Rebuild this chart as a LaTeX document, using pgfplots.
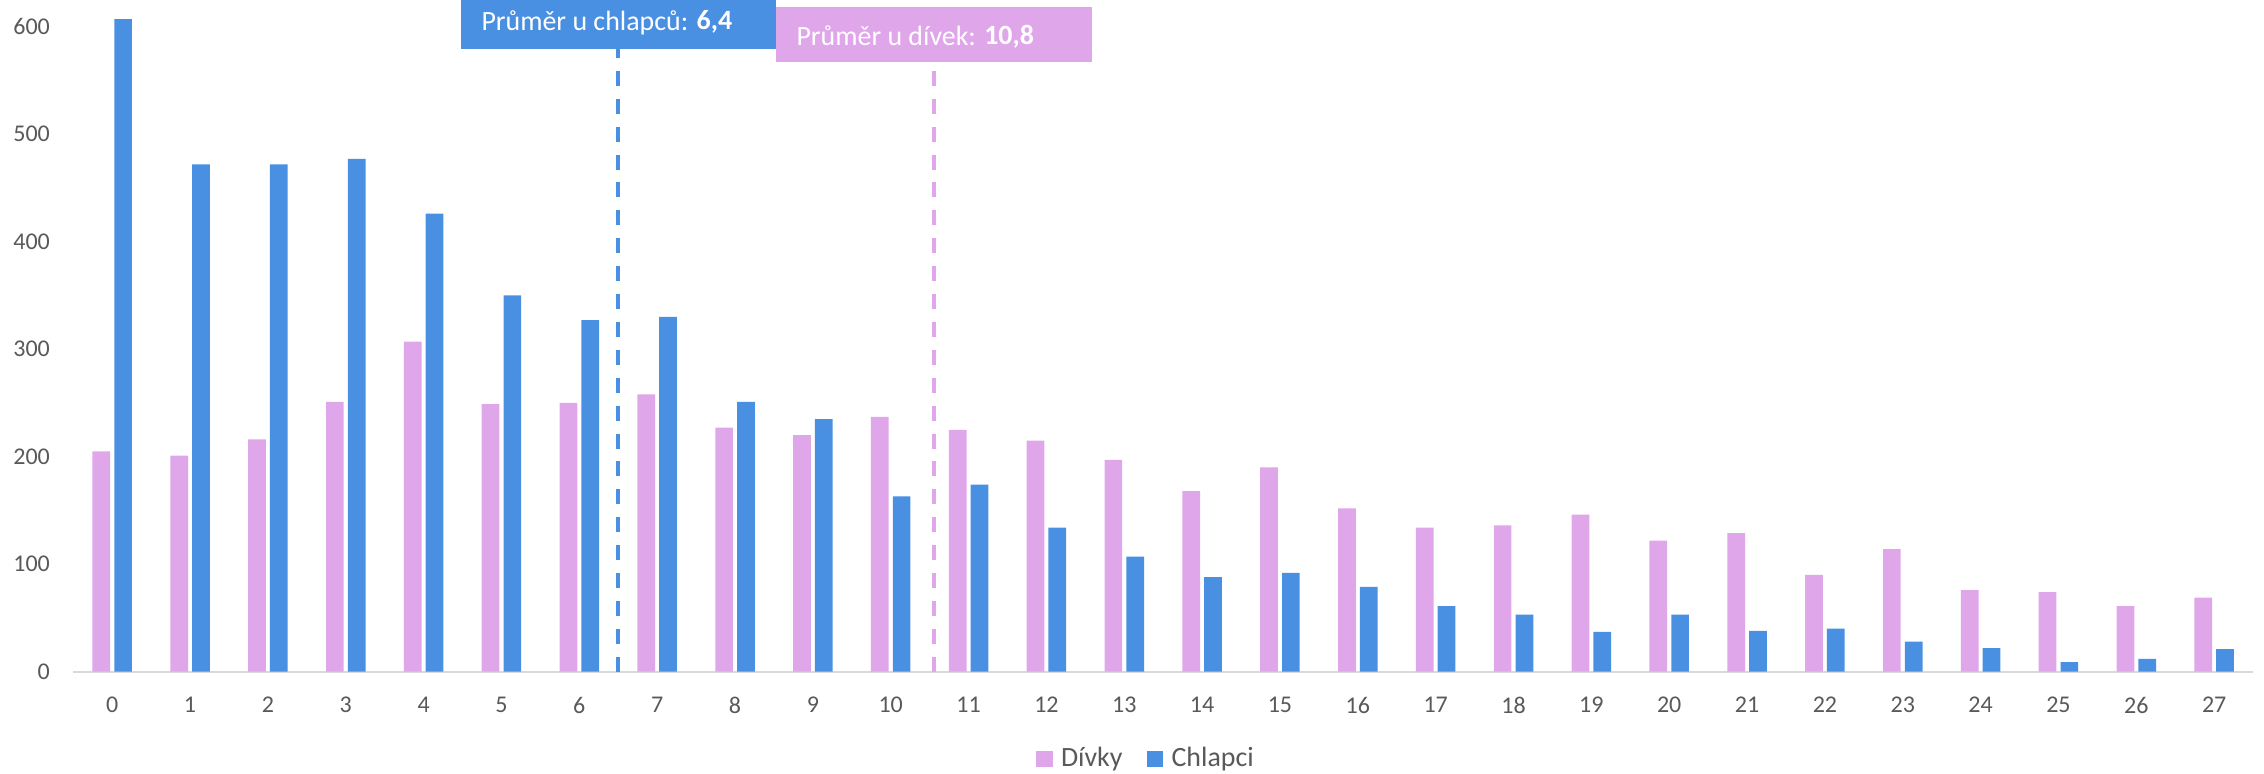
\documentclass[border=0pt]{standalone}
\usepackage{pgfplots}
\pgfplotsset{compat=1.18}
\usepackage{fontspec}
\setmainfont{Carlito}
\definecolor{blueC}{HTML}{4A90E2}
\definecolor{pinkC}{HTML}{E0A6EA}
\definecolor{tickC}{HTML}{595959}
\definecolor{axisC}{HTML}{D9D9D9}
\begin{document}
\begin{tikzpicture}
\path[use as bounding box] (-24.43pt,-33.77pt) rectangle (730.24pt,223.9pt);
\begin{axis}[
  at={(0pt,0pt)}, anchor=south west,
  scale only axis,
  width=726.6pt, height=223.9pt,
  xmin=-0.5, xmax=27.5, ymin=0, ymax=624.8,
  axis lines*=left,
  x axis line style={draw=axisC, line width=0.75pt},
  y axis line style={draw=none},
  major tick length=0pt,
  tick style={draw=none},
  xtick={0,1,...,27},
  ytick={0,100,...,600},
  /pgf/number format/assume math mode=true,
  ticklabel style={font=\fontsize{8}{9.6}\selectfont, text=tickC, inner sep=0pt},
  yticklabel style={anchor=east, xshift=-7.6pt},
  xticklabel style={anchor=north, yshift=-8.3pt},
  clip=true,
  legend columns=2,
  legend style={at={(0.4916,0)}, anchor=center, yshift=-29.1pt, draw=none, fill=none,
    font=\fontsize{9.3}{11}\selectfont, text=tickC,
    nodes={inner sep=0pt},
    /tikz/every odd column/.append style={column sep=2.8pt},
    /tikz/every even column/.append style={column sep=8pt}},
]
\addplot[ybar, bar width=5.9pt, bar shift=-3.63pt, fill=pinkC, draw=none,
  legend image code/.code={\fill[pinkC] (0pt,-2.78pt) rectangle (5.56pt,2.78pt);}]
coordinates {(0,205) (1,201) (2,216) (3,251) (4,307) (5,249) (6,250) (7,258) (8,227) (9,220) (10,237) (11,225) (12,215) (13,197) (14,168) (15,190) (16,152) (17,134) (18,136) (19,146) (20,122) (21,129) (22,90) (23,114) (24,76) (25,74) (26,61) (27,69)};
\addlegendentry{Dívky}
\addplot[ybar, bar width=5.9pt, bar shift=3.63pt, fill=blueC, draw=none,
  legend image code/.code={\fill[blueC] (0pt,-2.78pt) rectangle (5.56pt,2.78pt);}]
coordinates {(0,607) (1,472) (2,472) (3,477) (4,426) (5,350) (6,327) (7,330) (8,251) (9,235) (10,163) (11,174) (12,134) (13,107) (14,88) (15,92) (16,79) (17,61) (18,53) (19,37) (20,53) (21,38) (22,40) (23,28) (24,22) (25,9) (26,12) (27,21)};
\addlegendentry{Chlapci}
\addplot[blueC, line width=1.33pt, dash pattern=on 5pt off 4.3pt, forget plot] coordinates {(6.5,0) (6.5,579)};
\addplot[pinkC, line width=1.33pt, dash pattern=on 5pt off 4.3pt, forget plot] coordinates {(10.56,0) (10.56,567)};
\end{axis}
\fill[blueC] (129.2pt,207.6pt) rectangle (234.2pt,225.9pt);
\node[anchor=base west, inner sep=0pt, text=white, font=\fontsize{9.3}{11}\selectfont] at (135.87pt,213.9pt) {Průměr u chlapců: \textbf{6,4}};
\fill[pinkC] (234.2pt,203.3pt) rectangle (339.5pt,221.7pt);
\node[anchor=base west, inner sep=0pt, text=white, font=\fontsize{9.3}{11}\selectfont] at (240.87pt,208.9pt) {Průměr u dívek: \textbf{10,8}};
\end{tikzpicture}
\end{document}
